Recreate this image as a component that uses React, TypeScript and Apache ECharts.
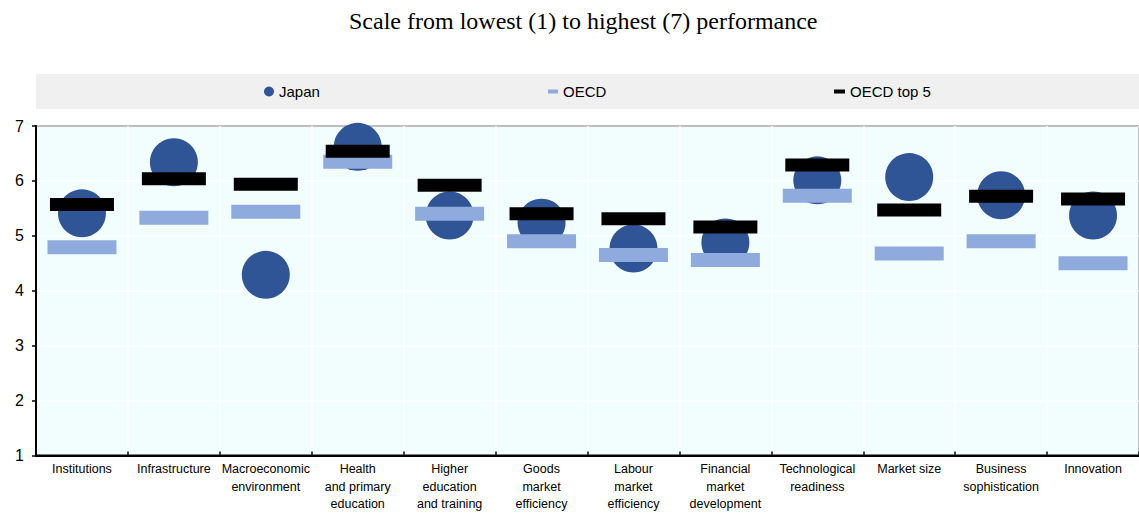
import React, { useEffect, useRef } from "react";
import * as echarts from "echarts";

const categories = [
  "Institutions",
  "Infrastructure",
  "Macroeconomic\nenvironment",
  "Health\nand primary\neducation",
  "Higher\neducation\nand training",
  "Goods\nmarket\nefficiency",
  "Labour\nmarket\nefficiency",
  "Financial\nmarket\ndevelopment",
  "Technological\nreadiness",
  "Market size",
  "Business\nsophistication",
  "Innovation",
];
const japan = [5.41, 6.34, 4.29, 6.62, 5.37, 5.24, 4.77, 4.88, 6.01, 6.07, 5.74, 5.37];
const oecd = [4.79, 5.33, 5.44, 6.35, 5.4, 4.9, 4.65, 4.56, 5.73, 4.68, 4.9, 4.5];
const oecdTop5 = [5.57, 6.04, 5.94, 6.54, 5.92, 5.4, 5.31, 5.16, 6.29, 5.47, 5.72, 5.67];
const yTicks = [1, 2, 3, 4, 5, 6, 7];

const SANS = "'Liberation Sans', Arial, sans-serif";
const JAPAN_C = "#2F5597";
const OECD_C = "#8FAADC";

export default function App() {
  const ref = useRef<HTMLDivElement>(null);
  useEffect(() => {
    document.body.style.margin = "0";
    if (!ref.current) return;
    const chart = echarts.init(ref.current, null, { renderer: "svg" });
    const legendCommon = {
      top: 84,
      padding: 0,
      itemGap: 0,
      textStyle: { fontFamily: SANS, fontSize: 15, color: "#000" },
      selectedMode: false,
    };
    chart.setOption({
      animation: false,
      title: {
        text: "Scale from lowest (1) to highest (7) performance",
        left: 349,
        top: 9,
        padding: 0,
        textStyle: {
          fontFamily: "'Liberation Serif', 'Times New Roman', serif",
          fontWeight: "normal",
          fontSize: 24,
          color: "#000",
        },
      },
      graphic: [
        {
          type: "rect",
          shape: { x: 36, y: 74, width: 1103, height: 35 },
          style: { fill: "#F0F0F0" },
          z: -10,
        },
      ],
      legend: [
        {
          ...legendCommon,
          left: 264,
          data: [{ name: "Japan", icon: "circle" }],
          itemWidth: 10,
          itemHeight: 10,
        },
        {
          ...legendCommon,
          left: 548,
          data: [{ name: "OECD", icon: "rect" }],
          itemWidth: 10,
          itemHeight: 4,
        },
        {
          ...legendCommon,
          left: 834,
          data: [{ name: "OECD top 5", icon: "rect" }],
          itemWidth: 11,
          itemHeight: 4,
        },
      ],
      grid: {
        left: 36,
        top: 126,
        width: 1113,
        height: 335,
        show: true,
        backgroundColor: "#F2FEFE",
        borderColor: "#000",
        borderWidth: 2,
        containLabel: false,
      },
      xAxis: {
        type: "category",
        data: categories,
        boundaryGap: true,
        axisLine: { show: true, lineStyle: { color: "#000", width: 2 } },
        axisTick: { show: true, inside: true, length: 4, interval: 0, lineStyle: { color: "#000", width: 1.5 } },
        splitLine: { show: true, interval: 0, lineStyle: { color: "#FFFFFF", width: 1.5 } },
        axisLabel: {
          interval: 0,
          margin: 5,
          fontFamily: SANS,
          fontSize: 12.5,
          lineHeight: 17.5,
          color: "#000",
        },
      },
      yAxis: {
        type: "value",
        min: yTicks[0],
        max: yTicks[yTicks.length - 1],
        interval: 1,
        axisLine: { show: true, lineStyle: { color: "#000", width: 2 } },
        axisTick: { show: true, inside: false, length: 4, lineStyle: { color: "#000", width: 1.5 } },
        splitLine: { show: true, lineStyle: { color: "#FFFFFF", width: 1.5 } },
        axisLabel: {
          margin: 12,
          fontFamily: SANS,
          fontSize: 16,
          color: "#000",
        },
      },
      series: [
        {
          name: "Japan",
          type: "scatter",
          data: japan,
          symbol: "circle",
          symbolSize: 48,
          itemStyle: { color: JAPAN_C, opacity: 1 },
          z: 2,
        },
        {
          name: "OECD",
          type: "scatter",
          data: oecd,
          symbol: "rect",
          symbolSize: [69, 14],
          itemStyle: { color: OECD_C, opacity: 1 },
          z: 3,
        },
        {
          name: "OECD top 5",
          type: "scatter",
          data: oecdTop5,
          symbol: "rect",
          symbolSize: [64, 13],
          itemStyle: { color: "#000000", opacity: 1 },
          z: 4,
        },
      ],
    });
    return () => chart.dispose();
  }, []);
  return <div ref={ref} style={{ width: 1139, height: 513 }} />;
}
